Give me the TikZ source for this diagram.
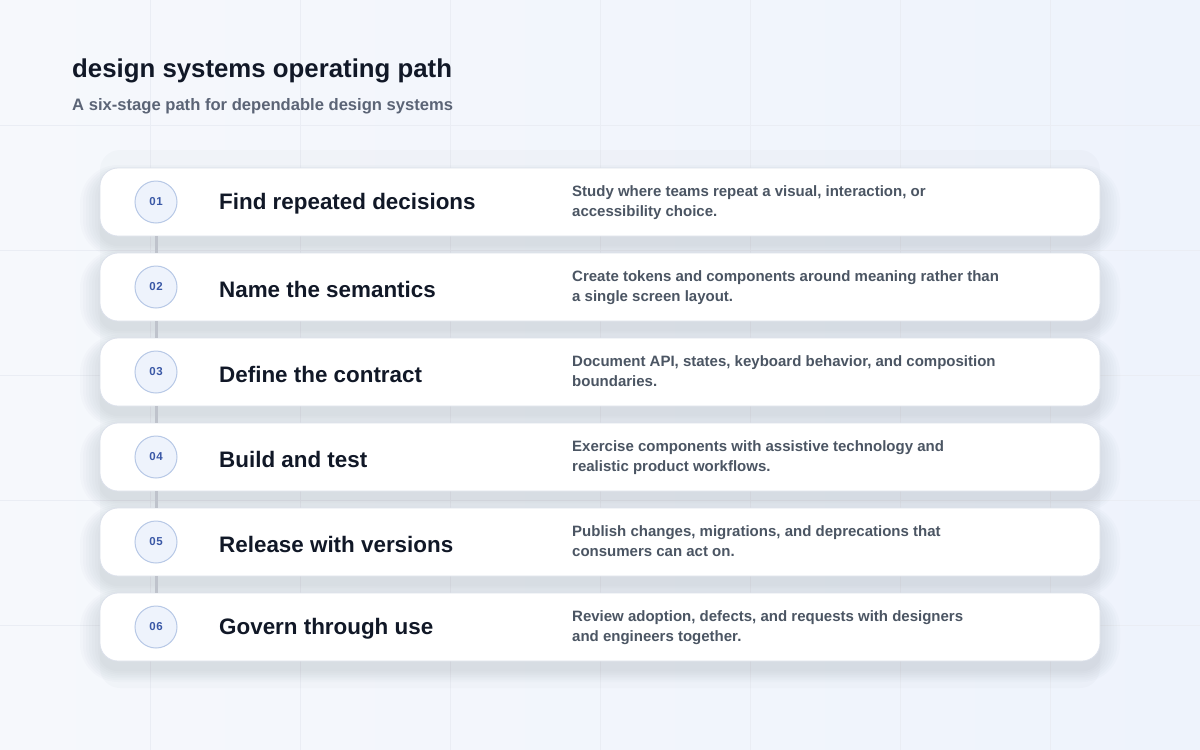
\documentclass[tikz,border=0pt]{standalone}
\usepackage{fontspec}
\setmainfont{Liberation Sans}
\usetikzlibrary{positioning}
\definecolor{bgA}{HTML}{F6F8FC}
\definecolor{bgB}{HTML}{EEF3FC}
\definecolor{gridc}{HTML}{EAEDF4}
\definecolor{titlec}{HTML}{111827}
\definecolor{subc}{HTML}{5B6476}
\definecolor{descc}{HTML}{4B5563}
\definecolor{cardline}{HTML}{DCE1EB}
\definecolor{shadowc}{HTML}{28345A}
\definecolor{circfill}{HTML}{EEF3FC}
\definecolor{circline}{HTML}{B7C8E6}
\definecolor{numc}{HTML}{3A58A6}
\definecolor{linkc}{HTML}{BFC3CC}
\tikzset{
  cardbox/.style={draw=cardline, line width=0.8pt, fill=white, rounded corners=18pt,
    minimum width=1000pt, minimum height=68pt, inner sep=0pt},
  numcirc/.style={circle, draw=circline, line width=1pt, fill=circfill, minimum size=42pt,
    inner sep=0pt, text=numc, font=\fontsize{11.5}{14}\selectfont\bfseries},
  steptitle/.style={anchor=west, inner sep=0pt, text=titlec, font=\fontsize{22.4}{26}\selectfont\bfseries},
  stepdesc/.style={anchor=north west, inner sep=0pt, text=descc, align=left,
    font=\fontsize{15}{19.5}\selectfont\bfseries},
  linkline/.style={draw=linkc, line width=3pt},
}
\begin{document}
\begin{tikzpicture}[x=1pt,y=-1pt]
\useasboundingbox (0,0) rectangle (1200,750);
\shade[left color=bgA, right color=bgB] (0,0) rectangle (1200,750);
% grid
\foreach \gx in {150,300,...,1050} \draw[gridc, line width=0.8pt] (\gx,0) -- (\gx,750);
\foreach \gy in {125,250,...,625} \draw[gridc, line width=0.8pt] (0,\gy) -- (1200,\gy);
% panel
\fill[shadowc, opacity=0.018, rounded corners=20pt] (100,150) rectangle (1100,688);
% title
\node[anchor=base west, inner sep=0pt, text=titlec, font=\fontsize{25.8}{30}\selectfont\bfseries] (title) at (72,77) {design systems operating path};
\node[anchor=base west, inner sep=0pt, text=subc, font=\fontsize{16.6}{19}\selectfont\bfseries] (subtitle) at (72,110) {A six-stage path for dependable design systems};
% shadows
\foreach \k in {0,...,5}{
  \pgfmathsetmacro{\ty}{168+85*\k}
  \foreach \s in {2,5,8,11,14,17,20}{
    \pgfmathsetmacro{\rc}{18+\s}
    \fill[shadowc, opacity=0.016, rounded corners=\rc pt]
      (100-\s,\ty+9-\s*0.6) rectangle (1100+\s,\ty+68+9+\s*0.6);
  }
}
% cards
\foreach \k/\n/\t/\da/\db in {
  1/01/Find repeated decisions/Study where teams repeat a visual{,} interaction{,} or/accessibility choice.,
  2/02/Name the semantics/Create tokens and components around meaning rather than/a single screen layout.,
  3/03/Define the contract/Document API{,} states{,} keyboard behavior{,} and composition/boundaries.,
  4/04/Build and test/Exercise components with assistive technology and/realistic product workflows.,
  5/05/Release with versions/Publish changes{,} migrations{,} and deprecations that/consumers can act on.,
  6/06/Govern through use/Review adoption{,} defects{,} and requests with designers/and engineers together.}{
  \pgfmathsetmacro{\cy}{168+85*(\k-1)+34}
  \node[cardbox] (card\k) at (600,\cy) {};
  \node[numcirc] (num\k) at (156,\cy) {\addfontfeature{LetterSpace=6}\n};
  \node[steptitle] (st\k) at (219,\cy+2.2) {\t};
  \node[stepdesc] (sd\k) at (572,\cy-16.5) {\da\\\db};
}
% connectors
\foreach \a/\b in {1/2,2/3,3/4,4/5,5/6}{
  \draw[linkline] (card\a.south -| num\a) -- (card\b.north -| num\b);
}
\end{tikzpicture}
\end{document}
